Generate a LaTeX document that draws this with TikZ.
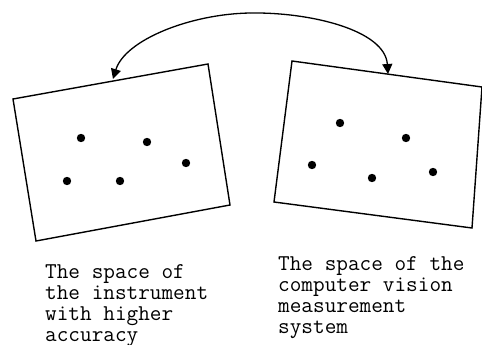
\documentclass[tikz,border=0pt]{standalone}
\usepackage{fontspec}
\usetikzlibrary{arrows.meta}
\begin{document}
\begin{tikzpicture}[x=1pt,y=-1pt,
  quad/.style={draw=black,line width=1.4pt,line join=miter},
  pt/.style={fill=black},
  lbl/.style={font=\ttfamily\fontsize{22.6}{21}\selectfont,align=left,anchor=north west,inner sep=0pt},
  link/.style={draw=black,line width=1.3pt,-{Triangle[length=10pt,width=10pt]}}]
\useasboundingbox (0,0) rectangle (482,345);
% left plane
\coordinate (l1) at (13,99);
\coordinate (l2) at (208,64);
\coordinate (l3) at (230,205);
\coordinate (l4) at (36,241);
\draw[quad] (l1) -- (l2) -- (l3) -- (l4) -- cycle;
% right plane
\coordinate (r1) at (292,61);
\coordinate (r2) at (482,87);
\coordinate (r3) at (472,228);
\coordinate (r4) at (274,202);
\draw[quad] (r1) -- (r2) -- (r3) -- (r4) -- cycle;
% points
\foreach \p in {(81,138),(147,142),(186,163),(67,181),(120,181),
                (340,123),(406,138),(312,165),(372,178),(433,172)}
  \fill[pt] \p circle (4.2);
% arrow
\coordinate (top) at (250,13);
\coordinate (la) at (113,79);
\coordinate (ra) at (388,74);
\draw[link] (top) .. controls (190,14) and (125,40) .. (la);
\draw[link] (top) .. controls (310,12) and (385,30) .. (ra);
% labels
\node[lbl] (t1) at (45,264) {The space of\\the instrument\\with higher\\accuracy};
\node[lbl] (t2) at (278,256) {The space of the\\computer vision\\measurement\\system};
\end{tikzpicture}
\end{document}
